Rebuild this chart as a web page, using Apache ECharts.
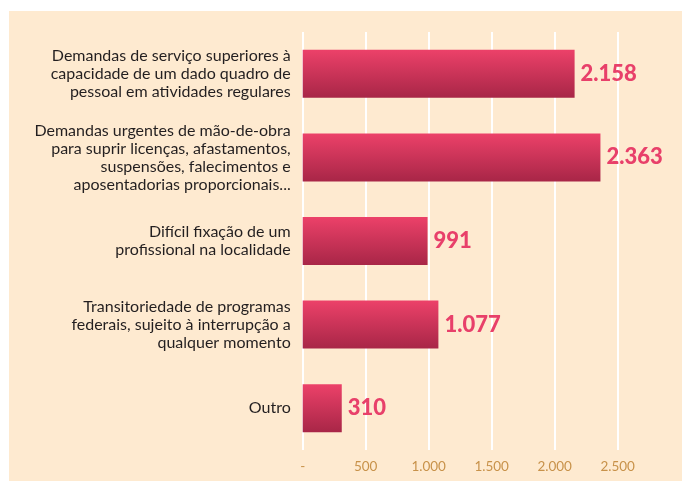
<!DOCTYPE html>
<html><head><meta charset="utf-8">
<script src="https://cdn.jsdelivr.net/npm/echarts@6/dist/echarts.min.js"></script>
<style>
html,body{margin:0;padding:0;background:#fff;}
#panel{position:absolute;left:9px;top:11px;width:673px;height:470px;background:#feead0;}
#c{position:absolute;left:0;top:0;width:682px;height:481px;}
</style></head><body>
<div id="panel"></div>
<div id="c"></div>
<script>
const categories = [
  "Demandas de serviço superiores à\ncapacidade de um dado quadro de\npessoal em atividades regulares",
  "Demandas urgentes de mão-de-obra\npara suprir licenças, afastamentos,\nsuspensões, falecimentos e\naposentadorias proporcionais...",
  "Difícil fixação de um\nprofissional na localidade",
  "Transitoriedade de programas\nfederais, sujeito à interrupção a\nqualquer momento",
  "Outro"
];
const values = [2158, 2363, 991, 1077, 310];
const xTicks = [0, 500, 1000, 1500, 2000, 2500];

function fmt(v){
  if (v === 0) return '-';
  const s = String(v);
  return s.replace(/\B(?=(\d{3})+(?!\d))/g, '.');
}

const chart = echarts.init(document.getElementById('c'));
chart.setOption({
  backgroundColor: 'transparent',
  animation: false,
  grid: {left: 302.7, right: 682 - 617.7, top: 32, bottom: 481 - 450},
  xAxis: {
    type: 'value', min: xTicks[0], max: xTicks[xTicks.length-1], interval: 500,
    axisLine: {show: false}, axisTick: {show: false},
    splitLine: {show: true, lineStyle: {color: '#ffffff', width: 2}},
    axisLabel: {color: '#c8924a', fontSize: 13.5, fontFamily: 'Lato', margin: 10,
      formatter: fmt}
  },
  yAxis: {
    type: 'category', inverse: true, data: categories,
    axisLine: {show: false}, axisTick: {show: false},
    axisLabel: {color: '#231f20', fontSize: 16, fontFamily: 'Lato', lineHeight: 18, margin: 12, align: 'right'}
  },
  series: [{
    type: 'bar', data: values, barWidth: 48,
    itemStyle: {color: new echarts.graphic.LinearGradient(0,0,0,1,[
      {offset: 0, color: '#ec4169'}, {offset: 1, color: '#a82647'}])},
    label: {show: true, position: 'right', distance: 6, color: '#e8406a',
      fontSize: 22, fontWeight: 900, fontFamily: 'Lato', formatter: p => fmt(p.value)}
  }]
});
</script>
</body></html>
